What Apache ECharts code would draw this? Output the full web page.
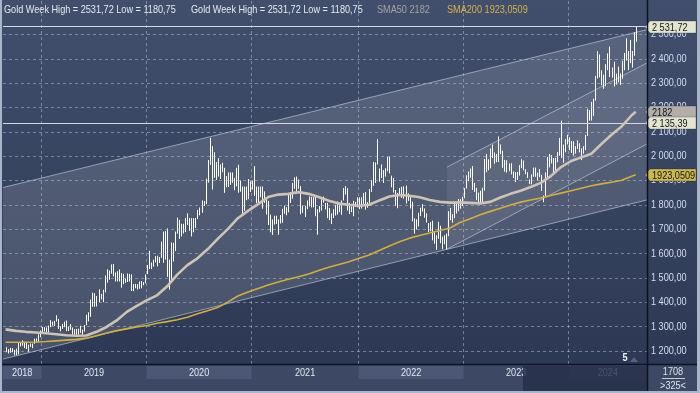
<!DOCTYPE html>
<html><head><meta charset="utf-8">
<script src="https://cdn.jsdelivr.net/npm/echarts@6/dist/echarts.min.js"></script>
<style>
html,body{margin:0;padding:0;background:#2f3b57;overflow:hidden;}
#c{width:700px;height:393px;background:linear-gradient(to bottom,#414f6d 0%,#36435f 50%,#2b3752 100%);}
</style></head><body><div id="c"></div>
<script>
// ---------- DATA ----------
const firstWeek = [2018, 7, 31];           // first weekly bar: Fri 31 Aug 2018
const weekHigh = [
1215,1207,1212,1211,1204,1209,1233,1233,1243,1237,1237,1225,1230,1230,1250,1251,1268,1284,
1298,1297,1296,1304,1326,1320,1323,1346,1331,1301,1311,1320,1324,1300,1310,1296,1289,1290,1291,1303,1287,1306,1348,1358,1411,1439,1437,1425,1453,1434,1451,1510,1535,1530,1555,1557,1522,1527,1535,1519,1516,1497,1518,1516,1514,1474,1475,1474,1485,1487,1482,1514,
1553,1611,1563,1574,1589,1591,1585,1649,1690,1692,1703,1575,1645,1644,1690,1747,1738,1722,1722,1745,1765,1745,1745,1745,1746,1779,1789,1818,1815,1907,1984,2075,2041,2016,1976,1992,1966,1973,1952,1918,1933,1933,1933,1911,1952,1965,1900,1875,1875,1875,1906,1896,
1900,1959,1875,1875,1875,1875,1855,1828,1816,1760,1740,1755,1755,1740,1758,1784,1797,1790,1845,1845,1890,1913,1916,1904,1877,1797,1795,1818,1834,1833,1832,1833,1782,1795,1823,1834,1808,1808,1787,1765,1782,1800,1814,1810,1818,1869,1877,1868,1808,1793,1816,1812,1831,
1831,1831,1848,1853,1811,1865,1902,1976,1974,2070,1949,1966,1943,1950,1998,1998,1920,1910,1861,1849,1869,1874,1876,1879,1847,1833,1813,1745,1740,1767,1788,1803,1785,1765,1725,1729,1735,1688,1675,1730,1714,1669,1675,1682,1774,1787,1762,1804,1810,1824,1823,1833,
1869,1921,1937,1949,1959,1890,1870,1850,1858,1870,1989,2009,1987,2032,2048,2015,2009,2081,2048,2022,1985,1983,1970,1971,1937,1934,1935,1963,1987,1982,1946,1934,1904,1925,1953,1953,1932,1947,1923,1838,1933,1997,2009,2004,1992,1993,2017,2075,2146,2047,2070,2088,
2078,2062,2061,2041,2065,2053,2032,2041,2088,2195,2189,2223,2236,2330,2431,2418,2353,2335,2378,2422,2450,2364,2388,2339,2368,2340,2392,2424,2484,2432,2477,2432,2509,2531.72
];
const weekLow = [
1194,1189,1192,1194,1180.75,1182,1185,1218,1221,1211,1207,1196,1216,1211,1229,1233,1235,1256,
1276,1280,1277,1276,1297,1303,1302,1320,1290,1280,1290,1297,1281,1281,1286,1266,1266,1266,1267,1274,1266,1279,1305,1321,1340,1381,1381,1382,1400,1411,1400,1440,1480,1492,1517,1506,1485,1485,1485,1459,1474,1480,1483,1485,1446,1445,1457,1452,1455,1457,1469,1477,
1515,1536,1536,1546,1563,1547,1561,1582,1562,1575,1504,1451,1482,1567,1610,1681,1660,1670,1682,1688,1717,1693,1670,1687,1705,1741,1757,1767,1795,1803,1891,1964,1863,1911,1902,1916,1906,1934,1849,1872,1873,1882,1890,1860,1876,1850,1854,1764,1775,1819,1823,1853,
1863,1836,1808,1802,1831,1784,1808,1760,1717,1687,1676,1719,1721,1677,1723,1726,1763,1757,1769,1808,1825,1866,1855,1866,1761,1767,1750,1782,1793,1789,1790,1753,1677,1769,1776,1809,1781,1745,1737,1721,1746,1756,1760,1770,1759,1818,1842,1776,1762,1770,1753,1791,1790,
1782,1785,1804,1780,1788,1805,1853,1878,1890,1966,1895,1910,1890,1916,1938,1929,1872,1850,1797,1786,1838,1828,1825,1805,1816,1785,1732,1681,1698,1711,1754,1772,1747,1727,1688,1691,1654,1640,1615,1660,1642,1617,1638,1616,1671,1737,1727,1745,1764,1774,1784,1795,
1827,1867,1897,1911,1861,1853,1819,1809,1804,1809,1858,1934,1942,1950,1992,1969,1975,1976,2008,1952,1936,1932,1938,1925,1910,1893,1902,1920,1951,1942,1926,1910,1885,1884,1915,1915,1900,1913,1857,1810,1835,1908,1954,1970,1932,1932,1975,2002,1993,1973,2016,2048,
2024,2013,2002,2010,2030,2015,1984,2010,2025,2083,2146,2146,2165,2228,2319,2324,2291,2277,2287,2353,2325,2322,2286,2294,2303,2293,2318,2353,2393,2353,2382,2364,2412,2470
];
// moving averages, every 5th week (+ last week)
const maWeekStep = 5;
const sma50 = [1288,1282,1278,1275,1272,1268,1264,1262,1263,1278,1298,1325,1360,1385,1408,1428,1465,1513,1552,1580,
1617,1660,1700,1745,1775,1803,1832,1842,1845,1852,1845,1832,1817,1805,1800,1796,1800,1818,1834,1840,
1837,1831,1820,1812,1809,1810,1808,1806,1812,1830,1845,1858,1873,1890,1918,1955,1980,1995,2010,2050,
2088,2122,2168,2182];
const sma200 = [1235,1235,1235,1236,1238,1241,1244,1247,1252,1262,1273,1283,1290,1298,1304,1313,1320,1328,1338,1352,
1365,1378,1400,1425,1442,1456,1470,1483,1494,1504,1516,1530,1543,1555,1566,1580,1594,1612,1631,1648,
1663,1674,1684,1694,1705,1727,1743,1759,1773,1786,1799,1811,1820,1828,1838,1848,1858,1868,1878,1886,
1893,1901,1917,1923.0509];
const smaLabels = ['2182', '1923,0509'];
const yTicks = [1200,1300,1400,1500,1600,1700,1800,1900,2000,2100,2200,2300,2400,2500];
const levelValues = [2531.72, 2135.39];
// trend channels: [date, upper, lower] at both ends
const bigChannelStart = ['2018-08-22', 1871, 1166];
const bigChannelEnd   = ['2024-10-01', 2520, 1820];
const innerChannelStart = ['2022-11-08', 1955, 1618];
const innerChannelEnd   = ['2024-10-01', 2383, 2050];
const headerTexts = ['Gold Week High = 2531,72 Low = 1180,75', 'Gold Week High = 2531,72 Low = 1180,75', 'SMA50 2182', 'SMA200 1923,0509'];
const footerTexts = ['1708', '>325<', '5'];

// ---------- BUILD ----------
const DAY = 86400000;
const t0 = Date.UTC(firstWeek[0], firstWeek[1], firstWeek[2]);
const dates = weekHigh.map((_, i) => t0 + i * 7 * DAY);
const ts = s => { const p = s.split('-').map(Number); return Date.UTC(p[0], p[1]-1, p[2]); };
const xMin = ts('2018-08-22'), xMax = ts('2024-10-01');

const maIdx = [];
for (let i = 0; i < dates.length; i += maWeekStep) maIdx.push(i);
if (maIdx[maIdx.length-1] !== dates.length-1) maIdx.push(dates.length-1);

const yearSeps = [];
const yearNames = [String(new Date(dates[0]).getUTCFullYear())];
for (let i = 1; i < dates.length; i++) {
  const y = new Date(dates[i]).getUTCFullYear();
  if (y !== new Date(dates[i-1]).getUTCFullYear()) { yearSeps.push(dates[i] - 1.5*DAY); yearNames.push(String(y)); }
}

function fmtNum(v) {
  const s = v.toFixed(2).split('.');
  return s[0].replace(/\B(?=(\d{3})+(?!\d))/g, ' ') + ',' + s[1];
}
const FONT = "'Liberation Sans',Arial,sans-serif";
const NARROW = 0.83;

function channelSeries(a, b, fill) {
  return {
    type: 'custom', silent: true, z: 1, animation: false,
    data: [[ts(a[0]), a[1], a[2], ts(b[0]), b[1], b[2]]],
    encode: { x: [0, 3], y: [1, 2, 4, 5] },
    renderItem: (params, api) => {
      const p1 = api.coord([api.value(0), api.value(1)]);
      const p2 = api.coord([api.value(3), api.value(4)]);
      const p3 = api.coord([api.value(3), api.value(5)]);
      const p4 = api.coord([api.value(0), api.value(2)]);
      const ls = { stroke: 'rgba(205,212,225,0.6)', lineWidth: 1 };
      return { type: 'group', children: [
        { type: 'polygon', shape: { points: [p1, p2, p3, p4] }, style: { fill: fill } },
        { type: 'line', shape: { x1: p1[0], y1: p1[1], x2: p2[0], y2: p2[1] }, style: ls },
        { type: 'line', shape: { x1: p4[0], y1: p4[1], x2: p3[0], y2: p3[1] }, style: ls }
      ]};
    }
  };
}
const dummy = [[xMin, 1200]];

const option = {
  animation: false,
  grid: { left: 3, right: 53, top: 0, bottom: 29 },
  xAxis: { type: 'time', min: xMin, max: xMax, show: true,
    axisLine: { show: false }, axisTick: { show: false }, axisLabel: { show: false }, splitLine: { show: false } },
  yAxis: { type: 'value', position: 'right', min: 1145.8, max: 2641.6, scale: true,
    axisLine: { show: false }, axisTick: { show: false }, axisLabel: { show: false }, splitLine: { show: false } },
  series: [
    channelSeries(bigChannelStart, bigChannelEnd, 'rgba(255,255,255,0.13)'),
    channelSeries(innerChannelStart, innerChannelEnd, 'rgba(255,255,255,0.07)'),
    { type: 'line', z: 2, data: dummy, symbol: 'none', lineStyle: { opacity: 0 }, silent: true,
      markLine: { silent: true, symbol: 'none', animation: false, label: { show: false },
        lineStyle: { type: [3, 3], color: 'rgba(185,198,222,0.5)', width: 1 },
        data: yTicks.map(v => ({ yAxis: v })).concat(yearSeps.map(t => ({ xAxis: t })))
      } },
    { type: 'custom', z: 4, silent: true, animation: false,
      data: dates.map((t, i) => [t, weekHigh[i], weekLow[i]]),
      encode: { x: 0, y: [1, 2] },
      renderItem: (params, api) => {
        const a = api.coord([api.value(0), api.value(1)]);
        const b = api.coord([api.value(0), api.value(2)]);
        const x = Math.round(a[0]) + 0.5;
        return { type: 'line', shape: { x1: x, y1: a[1], x2: x, y2: b[1] }, style: { stroke: '#ffffff', lineWidth: 1 } };
      } },
    { type: 'line', z: 5, symbol: 'none', silent: true, data: maIdx.map((i, k) => [dates[i], sma200[k]]),
      lineStyle: { color: '#d2ae3c', width: 1.6 } },
    { type: 'line', z: 6, symbol: 'none', silent: true, data: maIdx.map((i, k) => [dates[i], sma50[k]]),
      lineStyle: { color: '#cdc4b6', width: 2.6 } },
    { type: 'line', z: 7, data: dummy, symbol: 'none', lineStyle: { opacity: 0 }, silent: true,
      markLine: { silent: true, symbol: 'none', animation: false, label: { show: false },
        lineStyle: { type: 'solid', color: '#d4d9e2', width: 1.2 },
        data: levelValues.map(v => ({ yAxis: v }))
      } }
  ]
};

const chart = echarts.init(document.getElementById('c'), null, { renderer: 'canvas', width: 700, height: 393 });
chart.setOption(option);

const px = t => chart.convertToPixel({ xAxisIndex: 0 }, t);
const py = v => chart.convertToPixel({ yAxisIndex: 0 }, v);
const bounds = [3].concat(yearSeps.map(px)).concat([647]);
const g = [];
const Z = 100;
function txt(s, x, y, fill, opts) {
  opts = opts || {};
  return { type: 'text', x: x, y: y, z: opts.z || Z + 1, scaleX: NARROW,
    style: { text: s, fill: fill, font: (opts.bold ? 'bold ' : '') + '11px ' + FONT,
      textAlign: opts.align || 'left', textVerticalAlign: 'middle' } };
}
// header
const hx = [4, 191, 377, 447];
const hc = ['#e4e9f2', '#e4e9f2', '#a3a3a3', '#d6b444'];
headerTexts.forEach((s, k) => g.push(txt(s, hx[k], 10, hc[k])));
// right axis labels
yTicks.forEach(v => g.push(txt(fmtNum(v), 651, py(v), '#d6def0', { z: Z })));
function box(label, v, fill) {
  const y = Math.round(py(v));
  g.push({ type: 'polygon', z: Z + 2, shape: { points: [[645, y], [650, y - 6], [696, y - 6], [696, y + 6], [650, y + 6]] },
    style: { fill: fill, stroke: 'rgba(20,25,35,0.5)', lineWidth: 0.5 } });
  g.push(txt(label, 652, y + 0.5, '#10141c', { z: Z + 3 }));
}
box(smaLabels[0], sma50[sma50.length-1], '#b3afa8');
box(smaLabels[1], sma200[sma200.length-1], '#cdb84c');
levelValues.forEach(v => box(fmtNum(v), v, '#e3e6cf'));
// bottom band
g.push({ type: 'rect', z: Z, shape: { x: 0, y: 364, width: 700, height: 29 }, style: { fill: '#3c4864' } });
yearNames.forEach((name, k) => {
  const x0 = bounds[k], x1 = bounds[k+1];
  if (k % 2 === 0) g.push({ type: 'rect', z: Z, shape: { x: x0, y: 366, width: x1 - x0, height: 13 }, style: { fill: '#4b5774' } });
  const t = txt(name, (x0 + x1) / 2, 372.5, '#e2e7f0', { align: 'center' });
  g.push(t);
});
g.push({ type: 'rect', z: Z + 2, shape: { x: 523, y: 366, width: 124, height: 27 }, style: { fill: 'rgba(36,46,72,0.82)' } });
g.push(txt(footerTexts[0], 673, 372, '#dbe2ee', { align: 'center', z: Z + 3 }));
g.push({ type: 'line', z: Z + 3, shape: { x1: 662, y1: 378.5, x2: 685, y2: 378.5 }, style: { stroke: '#c4ccd9', lineWidth: 1 } });
g.push(txt(footerTexts[1], 673, 386, '#dbe2ee', { align: 'center', z: Z + 3 }));
g.push(txt(footerTexts[2], 625, 358, '#f0f3f8', { align: 'center', z: Z + 3, bold: true }));
g.push({ type: 'polygon', z: Z + 3, shape: { points: [[630, 362], [638, 362], [634, 357]] }, style: { fill: '#56627e' } });
// separators and frame
g.push({ type: 'line', z: Z + 4, shape: { x1: 0, y1: 364.5, x2: 700, y2: 364.5 }, style: { stroke: '#0c1222', lineWidth: 1.5 } });
g.push({ type: 'line', z: Z + 4, shape: { x1: 647.5, y1: 0, x2: 647.5, y2: 393 }, style: { stroke: '#0c1222', lineWidth: 1.5 } });
g.push({ type: 'rect', z: Z + 5, shape: { x: 0, y: 0, width: 2, height: 393 }, style: { fill: '#a9b5c9' } });
g.push({ type: 'rect', z: Z + 5, shape: { x: 697, y: 0, width: 3, height: 393 }, style: { fill: '#a9b5c9' } });
g.push({ type: 'rect', z: Z + 5, shape: { x: 0, y: 391, width: 700, height: 2 }, style: { fill: '#a9b5c9' } });
chart.setOption({ graphic: g });
</script></body></html>
